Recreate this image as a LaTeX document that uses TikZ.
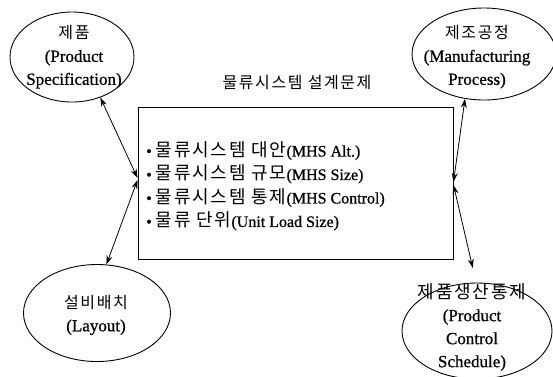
\documentclass[tikz,border=0pt]{standalone}
\usepackage{fontspec}
\setmainfont[FakeBold=0.8]{Liberation Serif}
\newfontfamily\kr[LetterSpace=10]{Noto Sans CJK KR}
\usetikzlibrary{shapes.geometric}
\usetikzlibrary{arrows,arrows.meta}
\newcommand{\hg}[1]{{\kr\fontsize{16}{23}\selectfont #1}}
\tikzset{ell/.style={draw, ellipse, line width=0.9pt, inner sep=0pt}}
\tikzset{lbl/.style={align=center, inner sep=0pt, font=\fontsize{17}{23}\selectfont}}
\tikzset{link/.style={<->, >={Stealth[length=9pt,width=6pt]}, line width=0.8pt}}

\begin{document}
\begin{tikzpicture}[x=1pt,y=-1pt]
\useasboundingbox (0,0) rectangle (553,376);
% ellipses
\node[ell, minimum width=124pt, minimum height=90pt] (prod) at (72,57) {};
\node[lbl] (prodtext) at (74,57) {\hg{제품}\\(Product\\Specification)};
\node[ell, minimum width=144pt, minimum height=92pt] (proc) at (484,54) {};
\node[lbl] (proctext) at (477,57) {\hg{제조공정}\\(Manufacturing\\Process)};
\node[ell, minimum width=147pt, minimum height=97pt] (lay) at (97,313) {};
\node[lbl] (laytext) at (96,315) {\hg{설비배치}\\(Layout)};
\node[ell, minimum width=150pt, minimum height=96pt] (sched) at (477,331) {};
\node[lbl] (schedtext) at (472,327) {{\kr\fontsize{18}{23}\selectfont 제품생산통제}\\(Product\\Control\\Schedule)};
% problem box
\node[font=\kr\fontsize{16}{20}\selectfont] (title) at (297,83) {물류시스템 설계문제};
\node[draw, line width=1pt, minimum width=315pt, minimum height=152pt, inner sep=0pt] (mhs) at (295.5,183) {};
\node[anchor=west, align=left, inner sep=0pt, font=\fontsize{16}{23.5}\selectfont] (items) at (146,186)
  {• {\kr\fontsize{18}{23.5}\selectfont 물류시스템 대안}(MHS Alt.)\\
   • {\kr\fontsize{18}{23.5}\selectfont 물류시스템 규모}(MHS Size)\\
   • {\kr\fontsize{18}{23.5}\selectfont 물류시스템 통제}(MHS Control)\\
   • {\kr\fontsize{18}{23.5}\selectfont 물류 단위}(Unit Load Size)};
% links
\draw[link] ([yshift=5pt]mhs.west) -- (prod.-55);
\draw[link] ([yshift=3pt]mhs.west) -- (lay.79);
\draw[link] ([yshift=1pt]mhs.east) -- (proc.-113);
\draw[link, shorten >=15pt] ([yshift=-2pt]mhs.east) -- (sched.91);
\end{tikzpicture}
\end{document}
